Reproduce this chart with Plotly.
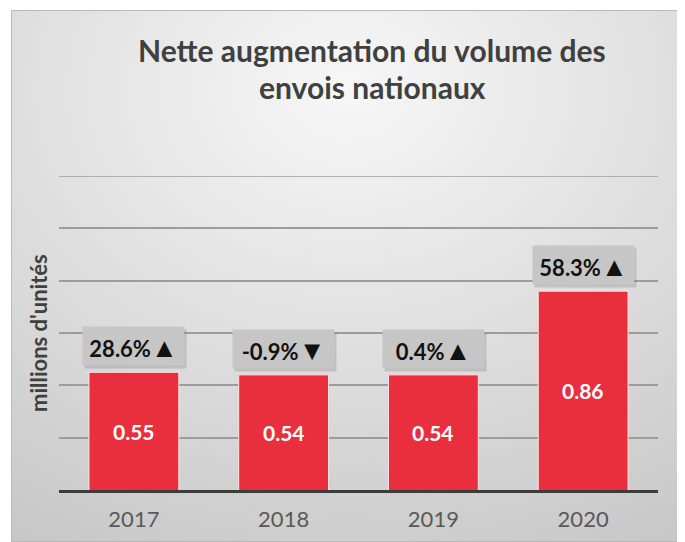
import base64
import plotly.graph_objects as go

years = ["2017", "2018", "2019", "2020"]
volumes = [0.55, 0.54, 0.54, 0.86]
changes = ["28.6%", "-0.9%", "0.4%", "58.3%"]
arrows = ["▲", "▼", "▲", "▲"]
axis_min, axis_max, grid_step = 0.1, 1.3, 0.2

# page body has an 8px margin; coordinates below are screenshot pixels
OFF = 8
W, H = 685 - OFF, 542 - OFF
PL, PR, PT, PB = 59, 658, 176, 490          # plot area in screenshot pixels
L, R, T, B = PL - OFF, W - (PR - OFF), PT - OFF, H - (PB - OFF)
pw, ph = W - L - R, H - T - B

def px_x(p):
    return (p - PL) / pw

def px_y(p):
    return (PB - p) / ph

pan_x0, pan_y0 = 11, 10
pan_w, pan_h = 685 - pan_x0, 542 - pan_y0
svg = (
    f'<svg xmlns="http://www.w3.org/2000/svg" width="{pan_w}" height="{pan_h}" preserveAspectRatio="none">'
    '<defs><radialGradient id="g" cx="50%" cy="15%" r="100%">'
    '<stop offset="0" stop-color="#F7F7F7"/><stop offset="1" stop-color="#C6C6C6"/>'
    '</radialGradient></defs>'
    f'<rect width="{pan_w}" height="{pan_h}" fill="url(#g)"/>'
    f'<rect x="0.5" y="0.5" width="{pan_w - 1}" height="{pan_h - 1}" fill="none" stroke="#B8B8B8"/>'
    '</svg>'
)
src = "data:image/svg+xml;base64," + base64.b64encode(svg.encode()).decode()

fig = go.Figure()
fig.add_trace(go.Bar(
    x=years, y=volumes,
    width=0.6,
    marker=dict(color="#E92E3D", line=dict(color="#FFE6E6", width=1)),
    textposition="none",
    hoverinfo="skip",
))

annotations = []
for i, (v, c, a) in enumerate(zip(volumes, changes, arrows)):
    # value label, centred in the visible part of the bar
    annotations.append(dict(
        x=i, y=(v + axis_min) / 2, xref="x", yref="y",
        xanchor="center", yanchor="middle", showarrow=False,
        text=f"<b>{v:.2f}</b>",
        font=dict(family="Lato", size=21, color="white"),
    ))
    # shadow
    annotations.append(dict(
        x=i, y=v, xref="x", yref="y", xanchor="center", yanchor="bottom",
        text="", width=101, height=38, bgcolor="rgba(0,0,0,0.13)",
        showarrow=False, yshift=3, xshift=2, borderpad=0,
    ))
    annotations.append(dict(
        x=i, y=v, xref="x", yref="y", xanchor="center", yanchor="bottom",
        text=f"<b>{c}</b><span style='font-size:27px'>{a}</span>",
        width=101, height=38, bgcolor="#C6C6C6",
        font=dict(family="Lato", size=22, color="#111111"),
        showarrow=False, yshift=6, borderpad=0,
    ))

annotations += [
    dict(x=px_x(372), y=px_y(50), xref="paper", yref="paper", showarrow=False,
         text="<b>Nette augmentation du volume des</b>",
         font=dict(family="Lato", size=30, color="#404040"),
         xanchor="center", yanchor="middle"),
    dict(x=px_x(372), y=px_y(87), xref="paper", yref="paper", showarrow=False,
         text="<b>envois nationaux</b>",
         font=dict(family="Lato", size=30, color="#404040"),
         xanchor="center", yanchor="middle"),
    dict(x=px_x(38), y=0.5, xref="paper", yref="paper", showarrow=False,
         text="<b>millions d'unités</b>", textangle=-90,
         font=dict(family="Lato", size=22, color="#404040"),
         xanchor="center", yanchor="middle"),
]

fig.update_layout(
    width=W, height=H,
    margin=dict(l=L, r=R, t=T, b=B, autoexpand=False),
    paper_bgcolor="white",
    plot_bgcolor="rgba(0,0,0,0)",
    showlegend=False,
    annotations=annotations,
    shapes=[dict(
        type="line", xref="paper", yref="y", x0=0, x1=1,
        y0=axis_max, y1=axis_max, line=dict(color="#9C9C9C", width=1.5),
        layer="below",
    )],
    images=[dict(
        source=src, xref="paper", yref="paper",
        x=px_x(pan_x0), y=px_y(pan_y0), sizex=pan_w / pw, sizey=pan_h / ph,
        xanchor="left", yanchor="top", sizing="stretch", layer="below",
    )],
    xaxis=dict(
        type="category", range=[-0.5, 3.5],
        showline=True, linewidth=3, linecolor="#3C3C3C",
        ticks="", showgrid=False, ticklabelstandoff=8,
        tickfont=dict(family="Lato", size=22, color="#595959"),
    ),
    yaxis=dict(
        range=[axis_min, axis_max], tick0=axis_min, dtick=grid_step,
        showticklabels=False, ticks="",
        showgrid=True, gridcolor="#9C9C9C", gridwidth=1.5,
        zeroline=False, fixedrange=True,
    ),
)

fig.write_html("out.html")
